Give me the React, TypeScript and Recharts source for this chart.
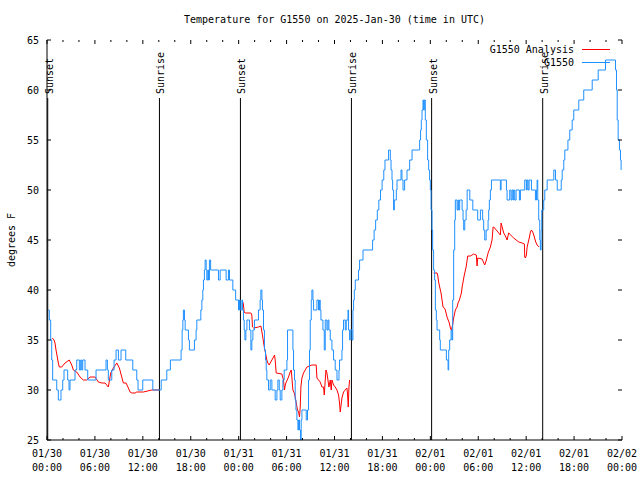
import { LineChart, Line, XAxis, YAxis, ReferenceLine, Legend } from "recharts";

const FONT = "'DejaVu Sans Mono', monospace";
const PLOT_TOP = 40;
const PLOT_BOTTOM = 440;
const PLOT_LEFT = 47;
const PLOT_RIGHT = 622;

// hours after 2025-01-30 00:00 UTC, temperature in deg F
const obsJan30: [number, number][] = [
  [0.16, 38], [0.29, 37], [0.46, 35], [0.59, 33], [0.71, 31], [1.22, 30], [1.42, 29], [1.75, 30],
  [1.97, 31], [2.13, 32], [2.59, 31], [2.76, 30], [2.88, 31], [3.51, 32], [3.72, 33], [4.05, 32],
  [4.22, 33], [4.35, 32], [4.47, 33], [4.76, 32], [5.1, 31], [6.14, 32], [7.39, 33], [7.56, 32],
  [7.68, 31], [8.11, 32], [8.4, 33], [8.65, 34], [8.94, 33], [9.27, 34], [9.86, 33], [10.74, 32],
  [11.24, 31], [11.4, 30], [11.99, 31], [13.25, 30], [14.3, 31], [15.0, 32], [15.45, 33], [16.79, 34],
  [16.92, 36], [17.01, 37], [17.08, 38], [17.21, 37], [17.3, 36], [17.71, 35], [17.83, 34], [18.46, 35],
  [18.67, 36], [18.76, 37], [19.26, 38], [19.39, 39], [19.51, 40], [19.59, 41], [19.71, 42], [19.8, 43],
  [19.93, 42], [20.01, 41], [20.14, 42], [20.22, 41], [20.34, 43], [20.49, 42], [21.47, 41], [21.68, 42],
  [22.43, 41], [22.72, 42], [22.85, 41], [23.27, 40], [23.62, 39], [23.98, 38], [24.1, 39],
];

const obsJan31: [number, number][] = [
  [24.19, 38], [24.4, 39], [24.48, 38], [24.6, 37], [24.69, 36], [24.78, 35], [24.9, 36], [25.03, 37],
  [25.35, 36], [25.53, 34], [25.65, 35], [25.78, 36], [25.98, 37], [26.48, 38], [26.69, 39], [26.78, 40],
  [26.91, 39], [26.98, 38], [27.11, 36], [27.23, 34], [27.36, 33], [27.45, 32], [27.53, 31], [27.74, 30],
  [27.95, 31], [28.16, 30], [28.57, 29], [28.79, 30], [28.91, 31], [29.08, 30], [29.2, 29], [29.41, 30],
  [29.54, 31], [29.7, 32], [30.04, 33], [30.12, 36], [30.79, 34], [30.87, 32], [30.99, 31], [31.08, 29],
  [31.17, 28], [31.29, 27], [31.42, 26], [31.5, 27], [31.62, 26], [31.75, 25], [31.83, 27], [31.92, 28],
  [32.46, 27], [32.62, 28], [32.75, 31], [32.87, 34], [32.96, 37], [33.09, 39], [33.17, 40], [33.3, 39],
  [33.38, 38], [33.8, 39], [34.0, 38], [34.13, 39], [34.21, 38], [34.3, 37], [34.55, 36], [34.72, 34],
  [34.84, 37], [35.05, 36], [35.18, 37], [35.3, 36], [35.47, 35], [35.68, 34], [35.88, 33], [36.09, 32],
  [36.31, 31], [36.56, 32], [36.63, 33], [36.93, 34], [37.01, 36], [37.13, 37], [37.35, 36], [37.47, 37],
  [37.69, 38], [37.76, 36], [37.89, 35], [37.97, 36], [38.19, 35], [38.31, 38], [38.39, 39], [38.48, 40],
  [38.6, 41], [39.01, 42], [39.14, 43], [39.57, 44], [40.77, 45], [40.96, 46], [41.15, 47], [41.36, 48],
  [41.55, 49], [41.76, 50], [41.96, 51], [42.17, 52], [42.32, 53], [42.77, 54], [42.99, 53], [43.08, 52],
  [43.2, 51], [43.28, 50], [43.4, 48], [43.49, 49], [43.74, 50], [43.83, 51], [44.33, 52], [44.45, 51],
  [44.58, 50], [44.78, 51], [45.08, 52], [45.41, 53], [45.71, 54], [46.66, 55], [46.78, 56], [46.87, 57],
  [46.96, 58], [47.08, 59], [47.16, 58], [47.25, 59], [47.37, 57], [47.5, 55], [47.66, 53], [47.79, 52],
  [47.91, 51],
];

const obsFeb01: [number, number][] = [
  [48.0, 50], [48.09, 48], [48.21, 46], [48.29, 44], [48.41, 42], [48.54, 41], [48.63, 38], [48.75, 37],
  [48.84, 36], [49.17, 35], [49.25, 34], [50.01, 33], [50.22, 32], [50.3, 34], [50.42, 35], [50.6, 36],
  [50.72, 35], [50.8, 39], [50.92, 44], [51.05, 47], [51.13, 49], [51.35, 48], [51.47, 49], [51.55, 48],
  [51.67, 49], [51.98, 48], [52.1, 47], [52.18, 46], [52.31, 47], [52.48, 48], [52.61, 50], [52.94, 49],
  [53.32, 48], [53.93, 47], [54.27, 48], [54.55, 47], [54.68, 46], [54.81, 45], [54.99, 46], [55.23, 47],
  [55.31, 48], [55.39, 49], [55.52, 50], [55.65, 51], [56.77, 50], [56.86, 51], [57.53, 50], [57.61, 49],
  [57.94, 50], [58.11, 49], [58.24, 50], [58.36, 49], [58.44, 50], [58.57, 49], [58.74, 50], [59.15, 49],
  [59.28, 50], [59.82, 51], [60.03, 50], [60.12, 51], [60.24, 50], [60.37, 51], [60.66, 50], [61.16, 49],
  [61.29, 50], [61.37, 51], [61.45, 49], [61.57, 47], [61.7, 45], [61.78, 44], [61.87, 46], [61.95, 48],
  [62.2, 49], [62.33, 50], [62.63, 51], [63.46, 52], [63.67, 51], [63.89, 50], [64.39, 51], [64.51, 52],
  [64.71, 53], [64.84, 54], [65.23, 55], [65.46, 56], [65.76, 57], [65.96, 58], [66.59, 59], [67.21, 60],
  [68.27, 61], [69.02, 62], [69.93, 63], [71.19, 62], [71.31, 60], [71.4, 57], [71.52, 55], [71.68, 54],
  [71.81, 53], [71.89, 52],
];

// analysis only exists overnight (sunset -> sunrise)
const analysisNight1: [number, number][] = [
  [0.66, 35.2], [0.88, 35.0], [1.0, 34.7], [1.13, 34.0], [1.29, 33.3], [1.42, 32.7], [1.54, 32.3],
  [1.84, 32.3], [2.26, 32.7], [2.79, 33.0], [3.1, 32.5], [3.3, 32.0], [3.72, 31.8], [4.14, 31.3],
  [4.55, 31.0], [4.98, 31.0], [5.39, 31.3], [6.02, 31.3], [6.43, 30.8], [6.86, 30.7], [7.27, 30.7],
  [7.68, 30.3], [7.98, 31.7], [8.31, 32.2], [8.74, 32.7], [9.06, 32.2], [9.36, 31.3], [9.56, 30.7],
  [9.9, 30.7], [10.19, 30.2], [10.4, 29.8], [10.62, 29.7], [11.03, 29.7], [11.24, 29.8], [12.07, 29.8],
  [13.12, 30.0], [14.04, 30.0],
];

const analysisNight2: [number, number][] = [
  [24.53, 38.8], [24.6, 38.5], [24.69, 37.8], [24.81, 37.7], [25.53, 37.7], [25.65, 37.5], [25.73, 36.3],
  [25.86, 36.2], [26.48, 36.3], [26.78, 36.4], [26.98, 35.5], [27.11, 34.8], [27.23, 34.2], [27.36, 33.7],
  [27.53, 33.0], [27.66, 32.7], [27.82, 32.5], [28.16, 33.0], [28.36, 33.3], [28.49, 33.5], [28.57, 33.0],
  [28.7, 31.7], [29.41, 31.6], [29.61, 31.0], [29.74, 30.0], [29.86, 30.6], [30.24, 31.3], [30.45, 31.8],
  [30.58, 32.0], [30.67, 31.2], [30.79, 30.0], [30.96, 29.7], [31.08, 29.3], [31.21, 28.7], [31.37, 28.0],
  [31.5, 27.8], [31.62, 27.3], [31.71, 28.3], [31.79, 30.3], [31.92, 31.2], [32.12, 31.7], [32.33, 32.0],
  [32.55, 32.3], [33.17, 32.5], [33.71, 32.5], [33.8, 31.2], [34.0, 31.0], [34.21, 30.8], [34.43, 30.3],
  [34.63, 30.3], [34.72, 29.5], [34.84, 31.0], [34.93, 32.0], [35.05, 31.7], [35.18, 31.0], [35.3, 30.3],
  [35.47, 31.0], [35.59, 30.0], [35.68, 31.0], [35.88, 30.5], [36.09, 30.3], [36.31, 30.0], [36.51, 29.5],
  [36.63, 28.7], [36.72, 27.8], [36.93, 29.2], [37.13, 29.8], [37.56, 30.2], [37.64, 29.5], [37.72, 28.3],
  [37.81, 30.3], [37.89, 31.0],
];

const analysisNight3: [number, number][] = [
  [48.41, 41.7], [48.84, 41.7], [48.92, 41.5], [49.04, 40.8], [49.17, 40.3], [49.34, 39.7], [49.47, 39.0],
  [49.59, 38.3], [49.76, 38.2], [49.88, 38.0], [50.09, 37.3], [50.38, 36.7], [50.51, 36.2], [50.63, 36.0],
  [50.79, 36.5], [50.92, 37.2], [51.13, 38.0], [51.35, 38.3], [51.47, 38.7], [51.64, 39.0], [51.89, 39.7],
  [51.98, 40.3], [52.1, 40.8], [52.18, 41.2], [52.31, 41.7], [52.48, 42.3], [52.61, 43.0], [52.68, 43.4],
  [53.01, 43.4], [53.43, 43.6], [53.76, 43.5], [53.85, 42.4], [53.93, 43.2], [54.48, 43.1], [54.81, 42.5],
  [55.02, 43.0], [55.23, 43.7], [55.52, 44.3], [55.73, 45.0], [55.86, 46.3], [55.93, 46.3], [56.36, 45.9],
  [56.77, 45.5], [56.86, 46.7], [57.19, 45.7], [57.4, 45.4], [57.61, 45.0], [57.81, 45.7], [58.44, 45.2],
  [59.07, 44.8], [59.49, 44.7], [59.78, 44.6], [59.82, 43.3], [59.91, 43.2], [60.03, 43.5], [60.12, 44.3],
  [60.24, 44.7], [60.41, 45.3], [60.53, 45.8], [60.66, 46.0], [60.82, 45.8], [60.95, 45.5], [61.2, 44.8],
  [61.37, 44.5], [61.62, 44.3],
];

const sunTimes = [0.09, 14.08, 24.22, 38.12, 48.16, 62.07];
const sunLabels = ["Sunset", "Sunrise", "Sunset", "Sunrise", "Sunset", "Sunrise"];

const seriesNames = ["G1550 Analysis", "G1550"];
const seriesColors = ["#ff0000", "#1e90ff"];

const xTicks = Array.from({ length: 37 }, (_, i) => i * 2);
const yTicks = [25, 30, 35, 40, 45, 50, 55, 60, 65];
const dayLabels = ["01/30", "01/31", "02/01", "02/02"];
const hourLabels = ["00:00", "06:00", "12:00", "18:00"];

const observed = [...obsJan30, ...obsJan31, ...obsFeb01].map(([h, t]) => ({ h, t }));
const analysis = [analysisNight1, analysisNight2, analysisNight3].flatMap((seg, i) => {
  const rows: { h: number; t: number | null }[] = seg.map(([h, t]) => ({ h, t }));
  if (i > 0) rows.unshift({ h: seg[0][0] - 0.01, t: null });
  return rows;
});

const txt = { fontFamily: FONT, fontSize: 10, fill: "#000" };

function TimeTick({ x, payload }: any) {
  const h = payload.value as number;
  const major = h % 6 === 0;
  const len = major ? 4 : 2;
  return (
    <g>
      <line x1={x} x2={x} y1={PLOT_BOTTOM} y2={PLOT_BOTTOM - len} stroke="#000" />
      <line x1={x} x2={x} y1={PLOT_TOP} y2={PLOT_TOP + len} stroke="#000" />
      {major && (
        <text x={x} y={PLOT_BOTTOM + 17} textAnchor="middle" {...txt}>
          <tspan x={x}>{dayLabels[Math.floor(h / 24)]}</tspan>
          <tspan x={x} dy={14}>{hourLabels[(h % 24) / 6]}</tspan>
        </text>
      )}
    </g>
  );
}

function TempTick({ y, payload }: any) {
  return (
    <g>
      <line x1={PLOT_LEFT} x2={PLOT_LEFT + 4} y1={y} y2={y} stroke="#000" />
      <line x1={PLOT_RIGHT} x2={PLOT_RIGHT - 4} y1={y} y2={y} stroke="#000" />
      <text x={PLOT_LEFT - 8} y={y} dy={4} textAnchor="end" {...txt}>
        {payload.value}
      </text>
    </g>
  );
}

function SunLabel(props: any) {
  const { viewBox, value } = props;
  const x = viewBox.x + 1;
  const y = viewBox.y - 4;
  return (
    <text x={x} y={y} dy={4} transform={`rotate(-90 ${x} ${y})`} textAnchor="start" {...txt}>
      {value}
    </text>
  );
}

// gnuplot-style key: right aligned title, then a short line sample
function KeyBox() {
  return (
    <div style={{ fontFamily: FONT, fontSize: 10 }}>
      {seriesNames.map((name, i) => (
        <div key={name} style={{ display: "flex", justifyContent: "flex-end", alignItems: "center", height: 13 }}>
          <span style={{ marginRight: 8 }}>{name}</span>
          <div style={{ width: 28, height: 1, background: seriesColors[i] }} />
        </div>
      ))}
    </div>
  );
}

export default function App() {
  return (
    <div style={{ position: "absolute", left: 0, top: 0, width: 640, height: 480, background: "#fff" }}>
      <div
        style={{
          position: "absolute",
          top: 13,
          left: 0,
          width: PLOT_LEFT + PLOT_RIGHT,
          textAlign: "center",
          fontFamily: FONT,
          fontSize: 10,
          lineHeight: "14px",
        }}
      >
        Temperature for G1550 on 2025-Jan-30 (time in UTC)
      </div>
      <LineChart width={640} height={480} margin={{ top: PLOT_TOP, right: 640 - PLOT_RIGHT, bottom: 0, left: 7 }}>
        <XAxis
          dataKey="h"
          type="number"
          domain={[0, 72]}
          ticks={xTicks}
          interval={0}
          tick={<TimeTick />}
          tickLine={false}
          axisLine={{ stroke: "#000" }}
          height={40}
        />
        <XAxis xAxisId="top" orientation="top" type="number" domain={[0, 72]} tick={false} tickLine={false} height={0} axisLine={{ stroke: "#000" }} />
        <YAxis
          type="number"
          domain={[25, 65]}
          ticks={yTicks}
          interval={0}
          tick={<TempTick />}
          tickLine={false}
          axisLine={{ stroke: "#000" }}
          width={40}
          label={{
            value: "degrees F",
            content: () => (
              <text x={11} y={240} transform="rotate(-90 11 240)" textAnchor="middle" dy={4} {...txt}>
                degrees F
              </text>
            ),
          }}
        />
        <YAxis yAxisId="right" orientation="right" type="number" domain={[25, 65]} tick={false} tickLine={false} width={0} axisLine={{ stroke: "#000" }} />
        <Legend
          layout="horizontal"
          verticalAlign="middle"
          align="center"
          content={<KeyBox />}
          wrapperStyle={{ top: 43, left: "auto", right: 30, width: "auto" }}
        />
        {sunTimes.map((h, i) => (
          <ReferenceLine
            key={h}
            segment={[{ x: h, y: 25 }, { x: h, y: 59.2 }]}
            stroke="#000"
            strokeWidth={1}
            label={{ value: sunLabels[i], content: SunLabel }}
          />
        ))}
        <Line
          data={analysis}
          dataKey="t"
          name={seriesNames[0]}
          type="linear"
          stroke={seriesColors[0]}
          strokeWidth={1}
          dot={false}
          connectNulls={false}
          isAnimationActive={false}
        />
        <Line
          data={observed}
          dataKey="t"
          name={seriesNames[1]}
          type="stepAfter"
          stroke={seriesColors[1]}
          strokeWidth={1}
          dot={false}
          isAnimationActive={false}
        />
      </LineChart>
    </div>
  );
}
